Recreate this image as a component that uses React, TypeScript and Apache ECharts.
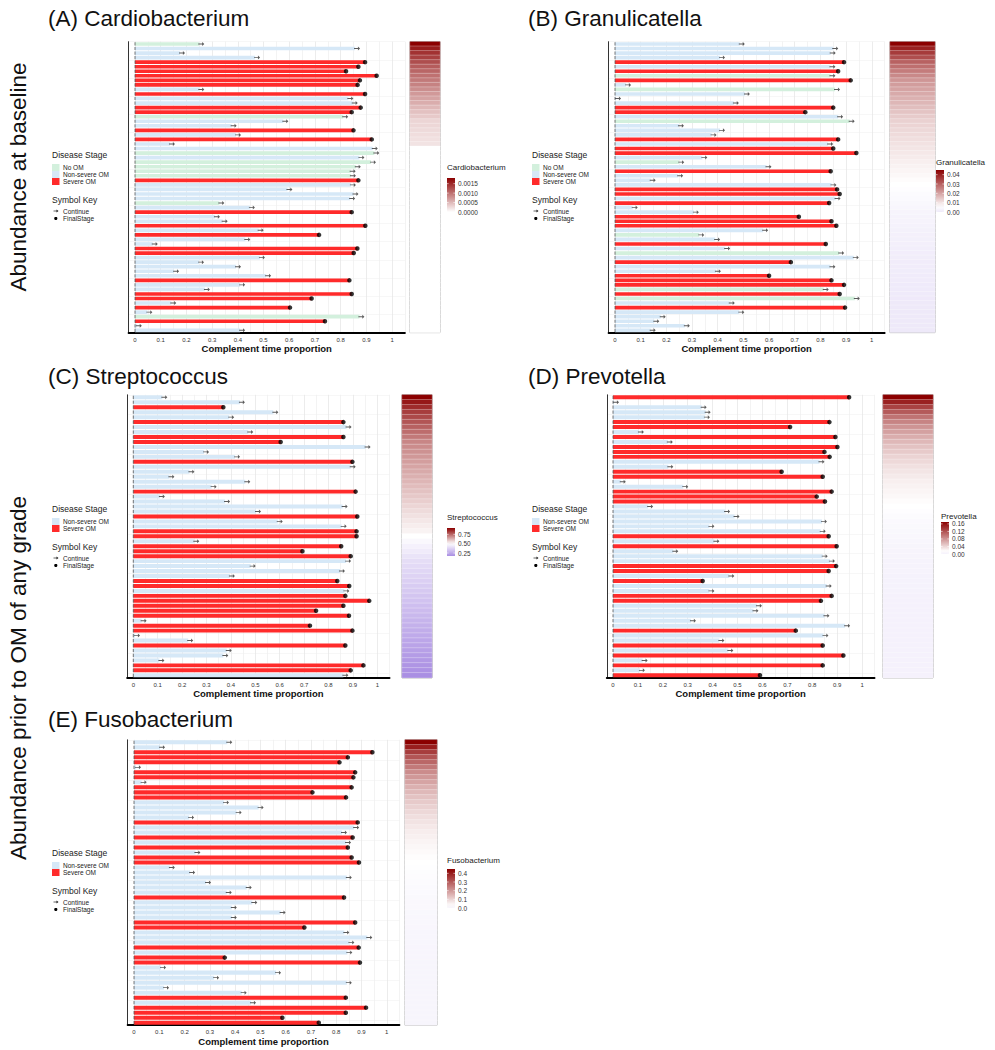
import React, { useEffect, useRef } from "react";
import * as echarts from "echarts";

const FONT = "'Liberation Sans', Arial, Helvetica, sans-serif";
const STAGE_COLORS: Record<string, string> = { G: "#d3f0dd", N: "#d6e8f7", S: "#ff2b2b" };
const STAGE_NAMES: Record<string, string> = { G: "No OM", N: "Non-severe OM", S: "Severe OM" };
const LOW = "#9370db";
const MID = "#ffffff";
const HIGH = "#8b0000";

const panelTitles = ["(A) Cardiobacterium", "(B) Granulicatella", "(C) Streptococcus", "(D) Prevotella", "(E) Fusobacterium"];
const genusNames = ["Cardiobacterium", "Granulicatella", "Streptococcus", "Prevotella", "Fusobacterium"];
const rowLabels = ["Abundance at baseline", "Abundance prior to OM of any grade"];
const xTitle = "Complement time proportion";

// ---------- Panel A ----------
const aStages = ["G","N","N","N","S","S","S","S","S","S","N","S","N","N","S","S","G","N","N","S","N","S","N","N","G","N","G","G","G","G","S","N","N","N","N","G","N","S","N","N","S","N","S","N","N","S","S","N","N","N","N","N","S","N","N","S","S","N","S","N","G","S","N","N"];
const aValues = [0.25,0.856,0.175,0.467,0.895,0.869,0.821,0.94,0.875,0.866,0.25,0.895,0.83,0.847,0.878,0.843,0.81,0.577,0.376,0.85,0.393,0.921,0.136,0.925,0.931,0.873,0.918,0.859,0.839,0.84,0.869,0.84,0.593,0.85,0.837,0.328,0.447,0.843,0.311,0.341,0.896,0.481,0.716,0.429,0.069,0.865,0.851,0.486,0.249,0.393,0.152,0.51,0.834,0.409,0.272,0.843,0.687,0.141,0.603,0.048,0.873,0.739,0.007,0.409];
const aAbund = [0.0018,0.0016,0.00145,0.00135,0.00125,0.00115,0.00108,0.001,0.00094,0.00088,0.0008,0.00072,0.00065,0.00058,0.0005,0.00044,0.00038,0.0003,0.00028,0.00026,0.00024,0.00022,0.0002,0,0,0,0,0,0,0,0,0,0,0,0,0,0,0,0,0,0,0,0,0,0,0,0,0,0,0,0,0,0,0,0,0,0,0,0,0,0,0,0,0];
const aMid = 0;
const aLegendTicks = [0.0015, 0.001, 0.0005, 0];
const aLegendLabels = ["0.0015", "0.0010", "0.0005", "0.0000"];

// ---------- Panel B ----------
const bStages = ["N","N","N","N","S","N","S","G","S","N","G","N","N","N","S","S","N","G","N","N","N","S","N","S","S","N","G","N","S","N","N","N","S","S","N","S","N","N","S","S","S","N","G","N","S","N","G","N","S","N","N","S","S","S","G","S","G","N","S","N","N","N","N","N"];
const bValues = [0.486,0.85,0.84,0.409,0.892,0.839,0.869,0.839,0.918,0.043,0.857,0.506,0.004,0.463,0.85,0.741,0.869,0.914,0.249,0.409,0.376,0.869,0.83,0.85,0.94,0.34,0.25,0.59,0.84,0.246,0.139,0.843,0.865,0.875,0.859,0.834,0.069,0.307,0.716,0.843,0.862,0.577,0.328,0.39,0.821,0.429,0.873,0.93,0.685,0.839,0.393,0.6,0.843,0.892,0.813,0.875,0.934,0.447,0.896,0.484,0.178,0.153,0.272,0.139];
const bAbund = [0.045,0.04,0.036,0.033,0.03,0.028,0.026,0.024,0.022,0.021,0.02,0.019,0.018,0.017,0.016,0.015,0.014,0.013,0.0125,0.012,0.0115,0.011,0.0105,0.01,0.0095,0.009,0.0085,0.008,0.0075,0.007,0.0065,0.006,0.0055,0.005,0.0045,0.004,0.0035,0.003,0.0028,0.0026,0.0024,0.0022,0.002,0.0018,0.0016,0.0014,0.0012,0.001,0.0009,0.0008,0.0007,0.0006,0.0005,0.0004,0.0003,0.0002,0.0001,0,0,0,0,0,0,0];
const bMid = 0.006;
const bLegendTicks = [0.04, 0.03, 0.02, 0.01, 0];
const bLegendLabels = ["0.04", "0.03", "0.02", "0.01", "0.00"];

// ---------- Panel C ----------
const cStages = ["N","N","S","N","N","S","N","N","S","S","N","N","N","S","N","N","N","N","N","S","N","N","N","N","S","N","N","S","S","N","S","S","S","N","N","N","N","S","S","N","S","S","S","S","S","N","S","S","N","N","S","N","N","N","S","S","N"];
const cValues = [0.119,0.437,0.369,0.574,0.393,0.861,0.874,0.471,0.861,0.604,0.952,0.29,0.417,0.898,0.891,0.23,0.148,0.459,0.321,0.911,0.109,0.376,0.858,0.503,0.918,0.592,0.854,0.915,0.915,0.25,0.852,0.693,0.891,0.872,0.481,0.847,0.396,0.836,0.885,0.865,0.869,0.967,0.861,0.749,0.884,0.034,0.724,0.898,0.007,0.225,0.869,0.383,0.369,0.107,0.943,0.891,0.861];
const cAbund = [0.92,0.88,0.85,0.82,0.8,0.78,0.76,0.74,0.72,0.7,0.69,0.68,0.67,0.66,0.65,0.64,0.63,0.62,0.61,0.6,0.59,0.58,0.57,0.56,0.55,0.54,0.53,0.52,0.5,0.48,0.46,0.44,0.42,0.4,0.39,0.38,0.37,0.36,0.35,0.34,0.33,0.32,0.31,0.3,0.29,0.28,0.27,0.26,0.25,0.24,0.23,0.22,0.21,0.2,0.19,0.18,0.17];
const cMid = 0.5;
const cLegendTicks = [0.75, 0.5, 0.25];
const cLegendLabels = ["0.75", "0.50", "0.25"];

// ---------- Panel D ----------
const dStages = ["S","N","N","N","N","S","S","N","S","N","S","S","S","N","N","S","S","N","N","S","S","S","N","N","N","N","N","N","S","N","S","N","N","N","S","S","N","S","N","N","S","S","N","N","N","N","N","S","N","N","S","N","S","N","S","N","S"];
const dValues = [0.948,0.004,0.356,0.372,0.369,0.869,0.711,0.104,0.893,0.22,0.901,0.849,0.87,0.829,0.222,0.677,0.842,0.031,0.282,0.878,0.818,0.851,0.141,0.45,0.488,0.839,0.387,0.834,0.866,0.407,0.898,0.242,0.842,0.871,0.896,0.866,0.467,0.36,0.858,0.387,0.878,0.835,0.578,0.564,0.849,0.313,0.932,0.734,0.845,0.427,0.842,0.463,0.925,0.119,0.842,0.108,0.59];
const dAbund = [0.17,0.15,0.13,0.115,0.1,0.09,0.08,0.072,0.065,0.058,0.052,0.047,0.042,0.038,0.034,0.031,0.028,0.025,0.023,0.021,0.019,0.017,0.015,0.013,0.011,0.009,0.008,0.007,0.006,0.005,0.004,0.0035,0.003,0.0025,0.002,0.0015,0.001,0.0008,0.0006,0.0004,0.0002,0,0,0,0,0,0,0,0,0,0,0,0,0,0,0,0];
const dMid = 0.015;
const dLegendTicks = [0.16, 0.12, 0.08, 0.04, 0];
const dLegendLabels = ["0.16", "0.12", "0.08", "0.04", "0.00"];

// ---------- Panel E ----------
const eStages = ["N","N","S","S","S","N","S","S","N","S","S","S","N","N","N","N","S","N","N","S","N","S","N","S","S","N","N","N","N","N","N","S","N","N","N","N","S","S","N","N","N","S","N","S","S","N","N","N","N","N","N","S","N","S","S","S","S"];
const eValues = [0.369,0.103,0.943,0.846,0.813,0.008,0.875,0.868,0.03,0.861,0.706,0.839,0.356,0.493,0.406,0.218,0.885,0.871,0.823,0.865,0.839,0.846,0.243,0.861,0.89,0.142,0.222,0.842,0.285,0.446,0.367,0.831,0.468,0.387,0.58,0.387,0.875,0.674,0.832,0.923,0.852,0.889,0.844,0.359,0.894,0.107,0.562,0.317,0.842,0.119,0.426,0.838,0.463,0.918,0.838,0.587,0.731];
const eAbund = [0.45,0.4,0.35,0.31,0.28,0.25,0.22,0.2,0.18,0.16,0.145,0.13,0.118,0.106,0.095,0.085,0.076,0.068,0.06,0.054,0.048,0.043,0.038,0.034,0.03,0.027,0.024,0.021,0.018,0.016,0.014,0.012,0.01,0.009,0.008,0.007,0.006,0.005,0.004,0.003,0.0025,0.002,0.0015,0.001,0.0005,0,0,0,0,0,0,0,0,0,0,0,0];
const eMid = 0.03;
const eLegendTicks = [0.4, 0.3, 0.2, 0.1, 0];
const eLegendLabels = ["0.4", "0.3", "0.2", "0.1", "0.0"];

// layout (positions only)
const layouts = [
  { gx: 128.6, gw: 276.3, gy: 41.7, gh: 290.9, cbx: 410, cbw: 30, legX: 447, legTop: 178, legBot: 212, legTitleY: 167, dsX: 52, dsY: 155, titleX: 48, titleY: 18 },
  { gx: 608.6, gw: 276.0, gy: 41.7, gh: 290.9, cbx: 890, cbw: 45, legX: 936, legTop: 170, legBot: 212, legTitleY: 162, dsX: 532, dsY: 155, titleX: 528, titleY: 18 },
  { gx: 127.2, gw: 262.3, gy: 394.8, gh: 283.0, cbx: 402, cbw: 30, legX: 447, legTop: 528, legBot: 556, legTitleY: 517, dsX: 52, dsY: 509, titleX: 48, titleY: 376 },
  { gx: 606.8, gw: 267.7, gy: 394.8, gh: 283.0, cbx: 883, cbw: 50, legX: 941, legTop: 522, legBot: 554, legTitleY: 516, dsX: 532, dsY: 509, titleX: 528, titleY: 376 },
  { gx: 127.7, gw: 271.7, gy: 739.8, gh: 285.4, cbx: 405, cbw: 32, legX: 447, legTop: 869, legBot: 908, legTitleY: 860, dsX: 52, dsY: 853, titleX: 48, titleY: 719 },
];

const panels = [
  { stages: aStages, values: aValues, abund: aAbund, mid: aMid, ticks: aLegendTicks, labels: aLegendLabels, legendStages: ["G", "N", "S"] },
  { stages: bStages, values: bValues, abund: bAbund, mid: bMid, ticks: bLegendTicks, labels: bLegendLabels, legendStages: ["G", "N", "S"] },
  { stages: cStages, values: cValues, abund: cAbund, mid: cMid, ticks: cLegendTicks, labels: cLegendLabels, legendStages: ["N", "S"] },
  { stages: dStages, values: dValues, abund: dAbund, mid: dMid, ticks: dLegendTicks, labels: dLegendLabels, legendStages: ["N", "S"] },
  { stages: eStages, values: eValues, abund: eAbund, mid: eMid, ticks: eLegendTicks, labels: eLegendLabels, legendStages: ["N", "S"] },
];

const ARROW = "path://M0,4.2 L6.5,4.2 L6.5,1.5 L10,5 L6.5,8.5 L6.5,5.8 L0,5.8 Z";

function hexRgb(h: string) {
  const n = parseInt(h.slice(1), 16);
  return [(n >> 16) & 255, (n >> 8) & 255, n & 255];
}
function mix(a: string, b: string, t: number) {
  const A = hexRgb(a), B = hexRgb(b);
  const c = A.map((v, i) => Math.round(v + (B[i] - v) * t));
  return `rgb(${c[0]},${c[1]},${c[2]})`;
}
function scaleColor(v: number, lo: number, hi: number) {
  const t = Math.max(0, Math.min(1, (v - lo) / (hi - lo)));
  return t < 0.5 ? mix(LOW, MID, t * 2) : mix(MID, HIGH, (t - 0.5) * 2);
}

function txt(x: number, y: number, s: string, size: number, extra: any = {}) {
  return {
    type: "text", x, y, z: 10,
    style: { text: s, fontSize: size, fontFamily: FONT, fill: "#222", align: "left", verticalAlign: "middle", ...extra },
  };
}

function buildOption() {
  const grid: any[] = [], xAxis: any[] = [], yAxis: any[] = [], series: any[] = [], visualMap: any[] = [], graphic: any[] = [];

  panels.forEach((p, k) => {
    const L = layouts[k];
    const cats = p.values.map((_, i) => String(i + 1));
    const gi = 2 * k, ci = 2 * k + 1;
    grid.push({ left: L.gx, top: L.gy, width: L.gw, height: L.gh, containLabel: false });
    grid.push({ left: L.cbx, top: L.gy, width: L.cbw, height: L.gh, containLabel: false, show: true, borderColor: "#666", borderWidth: 0.8, backgroundColor: "transparent" });

    xAxis.push({
      type: "value", gridIndex: gi, min: -0.025, max: 1.05, interval: 0.025,
      axisLine: { show: true, lineStyle: { color: "#000", width: 2 } },
      axisTick: { show: false },
      axisLabel: {
        fontSize: 6, color: "#333", margin: 4, fontFamily: FONT, showMinLabel: true, showMaxLabel: true,
        formatter: (v: number) => {
          if (v < -1e-9) return "";
          const t = v * 10;
          if (Math.abs(t - Math.round(t)) > 1e-6) return "";
          return String(Math.round(t) / 10);
        },
      },
      splitLine: { show: true, lineStyle: { color: ["rgba(0,0,0,0)", "#e4e4e4", "rgba(0,0,0,0)", "#eeeeee"], width: 0.7 } },
      name: xTitle, nameLocation: "middle", nameGap: 11,
      nameTextStyle: { fontSize: 9.5, fontWeight: "bold", color: "#111", fontFamily: FONT },
    });
    yAxis.push({
      type: "category", gridIndex: gi, data: cats, inverse: true,
      axisLine: { show: true, onZero: false, lineStyle: { color: "#333", width: 1 } },
      axisTick: { show: false }, axisLabel: { show: false },
      splitLine: { show: true, lineStyle: { color: "#efefef", width: 0.5 } },
    });
    xAxis.push({ type: "category", gridIndex: ci, data: ["c"], show: false });
    yAxis.push({ type: "category", gridIndex: ci, data: cats, inverse: true, show: false });

    series.push({
      type: "bar", xAxisIndex: gi, yAxisIndex: gi, barWidth: "80%", z: 2,
      data: p.values.map((v, i) => ({ value: v, itemStyle: { color: STAGE_COLORS[p.stages[i]] } })),
    });
    series.push({
      type: "scatter", xAxisIndex: gi, yAxisIndex: gi, z: 4, symbol: ARROW, symbolSize: [6, 4], symbolOffset: [2, 0],
      itemStyle: { color: "#333" },
      data: p.values.map((v, i) => [v, i, p.stages[i]]).filter((d) => d[2] !== "S").map((d) => [d[0], d[1]]),
    });
    series.push({
      type: "scatter", xAxisIndex: gi, yAxisIndex: gi, z: 4, symbol: "circle", symbolSize: 4.5,
      itemStyle: { color: "#000" },
      data: p.values.map((v, i) => [v, i, p.stages[i]]).filter((d) => d[2] === "S").map((d) => [d[0], d[1]]),
    });
    series.push({
      type: "scatter", xAxisIndex: gi, yAxisIndex: gi, z: 3, symbol: "rect", symbolSize: [1, 3.2],
      itemStyle: { color: "#555" },
      data: p.values.map((_, i) => [0, i]),
    });
    const hmIndex = series.length;
    series.push({
      type: "heatmap", xAxisIndex: ci, yAxisIndex: ci,
      itemStyle: { borderColor: "rgba(255,255,255,0.7)", borderWidth: 0.4 },
      data: p.abund.map((v, i) => [0, i, v]),
    });
    const hi = Math.max(...p.abund);
    const dmin = Math.min(...p.abund);
    const lo = 2 * p.mid - hi;
    visualMap.push({ type: "continuous", show: false, seriesIndex: hmIndex, dimension: 2, min: lo, max: hi, inRange: { color: [LOW, MID, HIGH] } });

    graphic.push(txt(L.titleX, L.titleY, panelTitles[k], 22.5, { fill: "#111" }));

    graphic.push(txt(L.legX, L.legTitleY, genusNames[k], 8, { fill: "#222" }));
    const stops = [];
    for (let s = 0; s <= 10; s++) {
      const v = hi - (hi - dmin) * (s / 10);
      stops.push({ offset: s / 10, color: scaleColor(v, lo, hi) });
    }
    graphic.push({
      type: "rect", z: 10, shape: { x: L.legX, y: L.legTop, width: 8, height: L.legBot - L.legTop },
      style: { fill: { type: "linear", x: 0, y: 0, x2: 0, y2: 1, colorStops: stops } },
    });
    p.ticks.forEach((t, j) => {
      const y = L.legBot - ((t - dmin) / (hi - dmin)) * (L.legBot - L.legTop);
      graphic.push({ type: "line", z: 11, shape: { x1: L.legX, y1: y, x2: L.legX + 1.6, y2: y }, style: { stroke: "#fff", lineWidth: 0.6 } });
      graphic.push({ type: "line", z: 11, shape: { x1: L.legX + 6.4, y1: y, x2: L.legX + 8, y2: y }, style: { stroke: "#fff", lineWidth: 0.6 } });
      graphic.push(txt(L.legX + 11, y, p.labels[j], 6.5, { fill: "#333" }));
    });

    graphic.push(txt(L.dsX, L.dsY, "Disease Stage", 8.5));
    let yy = L.dsY + 12.5;
    p.legendStages.forEach((s) => {
      graphic.push({ type: "rect", z: 10, shape: { x: L.dsX, y: yy - 3.5, width: 7.5, height: 7 }, style: { fill: STAGE_COLORS[s] } });
      graphic.push(txt(L.dsX + 11, yy, STAGE_NAMES[s], 6.5));
      yy += 7;
    });
    yy += 11;
    graphic.push(txt(L.dsX, yy, "Symbol Key", 8.5));
    yy += 11.5;
    graphic.push({ type: "line", z: 10, shape: { x1: L.dsX + 1.5, y1: yy, x2: L.dsX + 5, y2: yy }, style: { stroke: "#222", lineWidth: 0.7 } });
    graphic.push({ type: "polygon", z: 10, shape: { points: [[L.dsX + 4.5, yy - 1.5], [L.dsX + 6.5, yy], [L.dsX + 4.5, yy + 1.5]] }, style: { fill: "#222" } });
    graphic.push(txt(L.dsX + 11, yy, "Continue", 6.5));
    yy += 7.5;
    graphic.push({ type: "circle", z: 10, shape: { cx: L.dsX + 3.8, cy: yy, r: 1.6 }, style: { fill: "#000" } });
    graphic.push(txt(L.dsX + 11, yy, "FinalStage", 6.5));
  });

  graphic.push({ type: "text", x: 18, y: 177, rotation: Math.PI / 2, z: 10, style: { text: rowLabels[0], fontSize: 22.5, fontFamily: FONT, fill: "#111", align: "center", verticalAlign: "middle" } });
  graphic.push({ type: "text", x: 18, y: 678, rotation: Math.PI / 2, z: 10, style: { text: rowLabels[1], fontSize: 22.5, fontFamily: FONT, fill: "#111", align: "center", verticalAlign: "middle" } });

  return { animation: false, backgroundColor: "#ffffff", grid, xAxis, yAxis, series, visualMap, graphic };
}

export default function App() {
  const ref = useRef<HTMLDivElement>(null);
  useEffect(() => {
    if (!ref.current) return;
    const chart = echarts.init(ref.current, undefined, { renderer: "svg" });
    chart.setOption(buildOption() as any);
    return () => chart.dispose();
  }, []);
  return <div ref={ref} style={{ position: "absolute", left: 0, top: 0, width: 995, height: 1050, background: "#fff" }} />;
}
